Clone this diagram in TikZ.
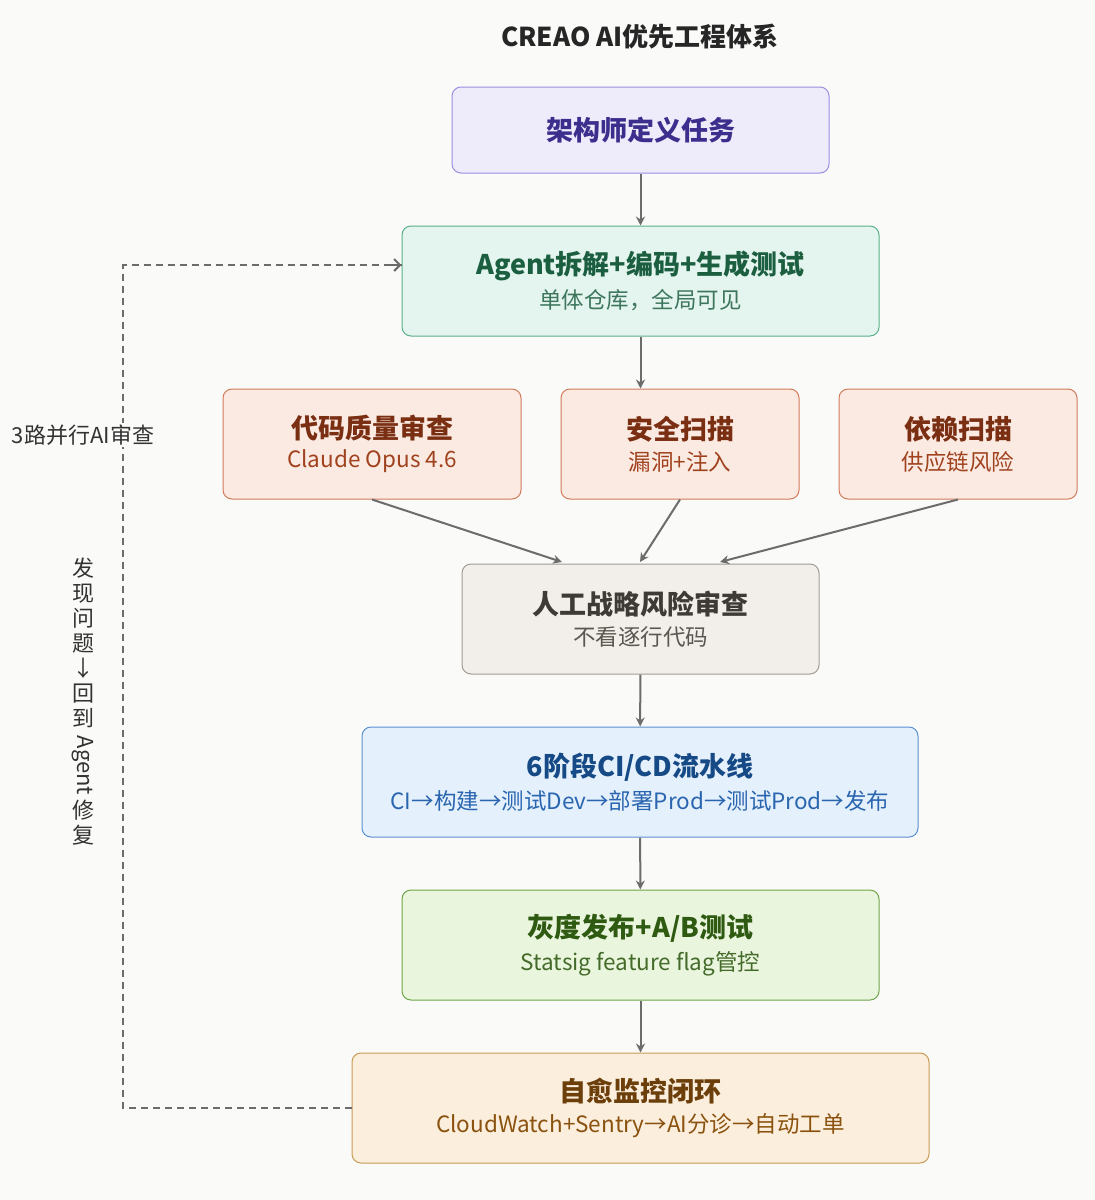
\documentclass[tikz,border=0pt]{standalone}
\usepackage{fontspec}
\setmainfont{Noto Sans CJK SC}
\usetikzlibrary{arrows.meta}
\newcommand{\bt}[1]{{\fontsize{27}{32}\selectfont\bfseries #1}}
\newcommand{\st}[1]{{\fontsize{22.5}{27}\selectfont #1}}
\begin{document}
\begin{tikzpicture}[x=1pt,y=-1pt,
 box/.style={draw,rounded corners=9pt,line width=1pt,align=center,inner sep=0pt},
 arr/.style={draw=gray!85!black,line width=2pt,-{Stealth[length=9pt,width=9pt]}},
 dashline/.style={draw=gray!85!black,line width=2pt,dash pattern=on 7pt off 5pt}]
\fill[fill={rgb,255:red,250;green,250;blue,248}] (0,0) rectangle (1095,1200);
\useasboundingbox (0,0) rectangle (1095,1200);
\definecolor{bgc}{rgb}{0.98,0.98,0.973}
\definecolor{pf}{HTML}{EEEBFB}\definecolor{pd}{HTML}{9B8FE0}\definecolor{pt}{HTML}{3C2E8C}
\definecolor{gf}{HTML}{E3F5EE}\definecolor{gd}{HTML}{5BB08A}\definecolor{gt}{HTML}{1B5E40}
\definecolor{of}{HTML}{FBEAE2}\definecolor{od}{HTML}{D27A5A}\definecolor{ot}{HTML}{7A2E12}\definecolor{os}{HTML}{A0421E}
\definecolor{hf}{HTML}{F2EFEA}\definecolor{hd}{HTML}{A09C95}\definecolor{ht}{HTML}{3E3B36}\definecolor{hs}{HTML}{5A5650}
\definecolor{bf}{HTML}{E4F0FB}\definecolor{bd}{HTML}{5A90D0}\definecolor{btc}{HTML}{164A86}\definecolor{bs}{HTML}{2A65B0}
\definecolor{lf}{HTML}{EAF5DD}\definecolor{ld}{HTML}{6FA64A}\definecolor{lt}{HTML}{2F5A12}
\definecolor{yf}{HTML}{FBEEDC}\definecolor{yd}{HTML}{C99A55}\definecolor{yt}{HTML}{6B3E0A}\definecolor{ys}{HTML}{8A520E}

\node[font=\fontsize{26}{30}\selectfont\bfseries,text=black!85] (title) at (640,37) {CREAO AI优先工程体系};

\node[box,fill=pf,draw=pd,minimum width=377pt,minimum height=86pt] (a) at (640.5,130) {\textcolor{pt}{\bt{架构师定义任务}}};
\node[box,fill=gf,draw=gd,minimum width=477pt,minimum height=110pt] (b) at (640.5,281) {\textcolor{gt}{\bt{Agent拆解+编码+生成测试}}\\[8pt]\textcolor{gt!85}{\st{单体仓库，全局可见}}};
\node[box,fill=of,draw=od,minimum width=298pt,minimum height=110pt] (c1) at (372,444) {\textcolor{ot}{\bt{代码质量审查}}\\[8pt]\textcolor{os}{\st{Claude Opus 4.6}}};
\node[box,fill=of,draw=od,minimum width=238pt,minimum height=110pt] (c2) at (680,444) {\textcolor{ot}{\bt{安全扫描}}\\[8pt]\textcolor{os}{\st{漏洞+注入}}};
\node[box,fill=of,draw=od,minimum width=238pt,minimum height=110pt] (c3) at (958,444) {\textcolor{ot}{\bt{依赖扫描}}\\[8pt]\textcolor{os}{\st{供应链风险}}};
\node[box,fill=hf,draw=hd,minimum width=357pt,minimum height=110pt] (d) at (640.5,619) {\textcolor{ht}{\bt{人工战略风险审查}}\\[8pt]\textcolor{hs}{\st{不看逐行代码}}};
\node[box,fill=bf,draw=bd,minimum width=556pt,minimum height=110pt] (e) at (640,782) {\textcolor{btc}{\bt{6阶段CI/CD流水线}}\\[8pt]\textcolor{bs}{\st{CI→构建→测试Dev→部署Prod→测试Prod→发布}}};
\node[box,fill=lf,draw=ld,minimum width=477pt,minimum height=110pt] (f) at (640.5,945) {\textcolor{lt}{\bt{灰度发布+A/B测试}}\\[8pt]\textcolor{lt!90}{\st{Statsig feature flag管控}}};
\node[box,fill=yf,draw=yd,minimum width=577pt,minimum height=110pt] (g) at (640.5,1108) {\textcolor{yt}{\bt{自愈监控闭环}}\\[8pt]\textcolor{ys}{\st{CloudWatch+Sentry→AI分诊→自动工单}}};

\draw[arr] (a) -- (b);
\draw[arr] (b.south) -- (c2.north west -| b.south);
\draw[arr] (c1.south) -- (562,562);
\draw[arr] (c2.south) -- (640,562);
\draw[arr] (c3.south) -- (720,562);
\draw[arr] (d) -- (e);
\draw[arr] (e) -- (f);
\draw[arr] (f) -- (g);

\coordinate (p1) at (123,1108);
\coordinate (p2) at (123,265);
\draw[dashline] (g.west) -- (p1) -- (p2) -- (b.west |- p2);
\draw[draw=gray!85!black,line width=2pt,-{Straight Barb[length=6pt,width=12pt]}] (390,265) -- (b.west |- p2);

\node[font=\fontsize{22}{26}\selectfont,text=black!80,fill=bgc,inner sep=2pt] (l1) at (83,435) {3路并行AI审查};
\node[font=\fontsize{22}{25}\selectfont,text=black!80,align=center,fill=bgc,inner sep=2pt] (l2) at (83,702) {发\\现\\问\\题\\↓\\回\\到\\[19pt]\smash{\rotatebox[origin=c]{-90}{Agent}}\\[23pt]修\\复};
\end{tikzpicture}
\end{document}
